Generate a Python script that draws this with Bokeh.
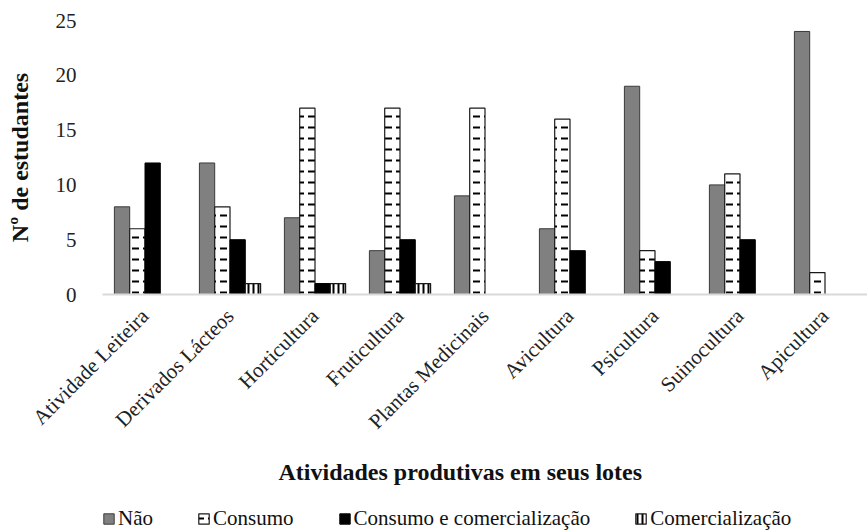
from bokeh.plotting import figure
from bokeh.models import ColumnDataSource, FactorRange, Legend, LegendItem, Title, Range1d
from bokeh.layouts import column
from bokeh.transform import dodge
from bokeh.embed import file_html
from bokeh.resources import INLINE
import math

categories = ["Atividade Leiteira", "Derivados Lácteos", "Horticultura", "Fruticultura",
              "Plantas Medicinais", "Avicultura", "Psicultura", "Suinocultura", "Apicultura"]
nao = [8, 12, 7, 4, 9, 6, 19, 10, 24]
consumo = [6, 8, 17, 17, 17, 16, 4, 11, 2]
consumo_comerc = [12, 5, 1, 5, 0, 4, 3, 5, 0]
comerc = [0, 1, 1, 1, 0, 0, 0, 0, 0]
series_names = ["Não", "Consumo", "Consumo e comercialização", "Comercialização"]
y_ticks = [0, 5, 10, 15, 20, 25]
x_title = "Atividades produtivas em seus lotes"
y_title = "Nº de estudantes"

src = ColumnDataSource(dict(cat=categories, nao=nao, consumo=consumo,
                            cc=consumo_comerc, com=comerc))

FONT = "Liberation Serif"
styles = [
    dict(fill_color="#808080", line_color="#3a3a3a", line_width=1),
    dict(fill_color="white", line_color="#1a1a1a", line_width=1.2,
         hatch_pattern='"', hatch_color="black", hatch_scale=11, hatch_weight=2),
    dict(fill_color="black", line_color="black", line_width=1),
    dict(fill_color="white", line_color="#1a1a1a", line_width=1.2,
         hatch_pattern="|", hatch_color="black", hatch_scale=5, hatch_weight=2),
]

p = figure(width=867, height=500, x_range=FactorRange(*categories), y_range=(0, 25),
           output_backend="svg", toolbar_location=None,
           min_border_left=102, min_border_right=0, min_border_top=20, min_border_bottom=206)

w = 0.18
cols = ["nao", "consumo", "cc", "com"]
offsets = [-0.27, -0.09, 0.09, 0.27]
for c, off, st in zip(cols, offsets, styles):
    p.vbar(x=dodge("cat", off, range=p.x_range), top=c, width=w, source=src, **st)

p.xgrid.grid_line_color = None
p.ygrid.grid_line_color = None
p.outline_line_color = None

p.yaxis.ticker = y_ticks
p.yaxis.axis_line_color = None
p.yaxis.major_tick_line_color = None
p.yaxis.minor_tick_line_color = None
p.yaxis.major_label_text_font = FONT
p.yaxis.major_label_text_font_size = "21px"
p.yaxis.major_label_text_color = "#222222"
p.yaxis.major_label_standoff = 20
p.yaxis.axis_label = y_title
p.yaxis.axis_label_text_font = FONT
p.yaxis.axis_label_text_font_size = "24px"
p.yaxis.axis_label_text_font_style = "bold"
p.yaxis.axis_label_text_color = "#111111"
p.yaxis.axis_label_standoff = 20

p.xaxis.axis_line_color = "#d9d9d9"
p.xaxis.axis_line_width = 2
p.xaxis.major_tick_line_color = None
p.xaxis.major_label_orientation = math.pi / 4
p.xaxis.major_label_text_font = FONT
p.xaxis.major_label_text_font_size = "21px"
p.xaxis.major_label_text_color = "#222222"
p.xaxis.major_label_standoff = 12

p.add_layout(Title(text=x_title, align="left", offset=176, text_font=FONT,
                   text_font_size="24px", text_font_style="bold", text_color="#111111",
                   standoff=22), "below")

# legend strip (legend-only figure; its proxy bars lie outside the visible range)
lf = figure(width=867, height=31, output_backend="svg", toolbar_location=None,
            x_axis_type=None, y_axis_type=None, x_range=Range1d(10, 11), y_range=Range1d(10, 11),
            min_border=0, min_border_left=0, min_border_right=0,
            min_border_top=0, min_border_bottom=0)
lf.outline_line_color = None
lf.xgrid.visible = False
lf.ygrid.visible = False
proxy = ColumnDataSource(dict(x=[0], top=[0]))
items = []
for name, st in zip(series_names, styles):
    r = lf.vbar(x="x", top="top", width=0.5, source=proxy, **st)
    items.append(LegendItem(label=name, renderers=[r]))
legend = Legend(items=items, orientation="horizontal", location=(0, 0),
                label_text_font=FONT, label_text_font_size="21px", label_text_color="#111111",
                glyph_width=13, glyph_height=13, spacing=44, label_standoff=3,
                border_line_color=None, background_fill_alpha=0, padding=0, margin=0)
lf.add_layout(legend)

layout = column(p, lf, spacing=0)
open("out.html", "w").write(file_html(layout, INLINE))
